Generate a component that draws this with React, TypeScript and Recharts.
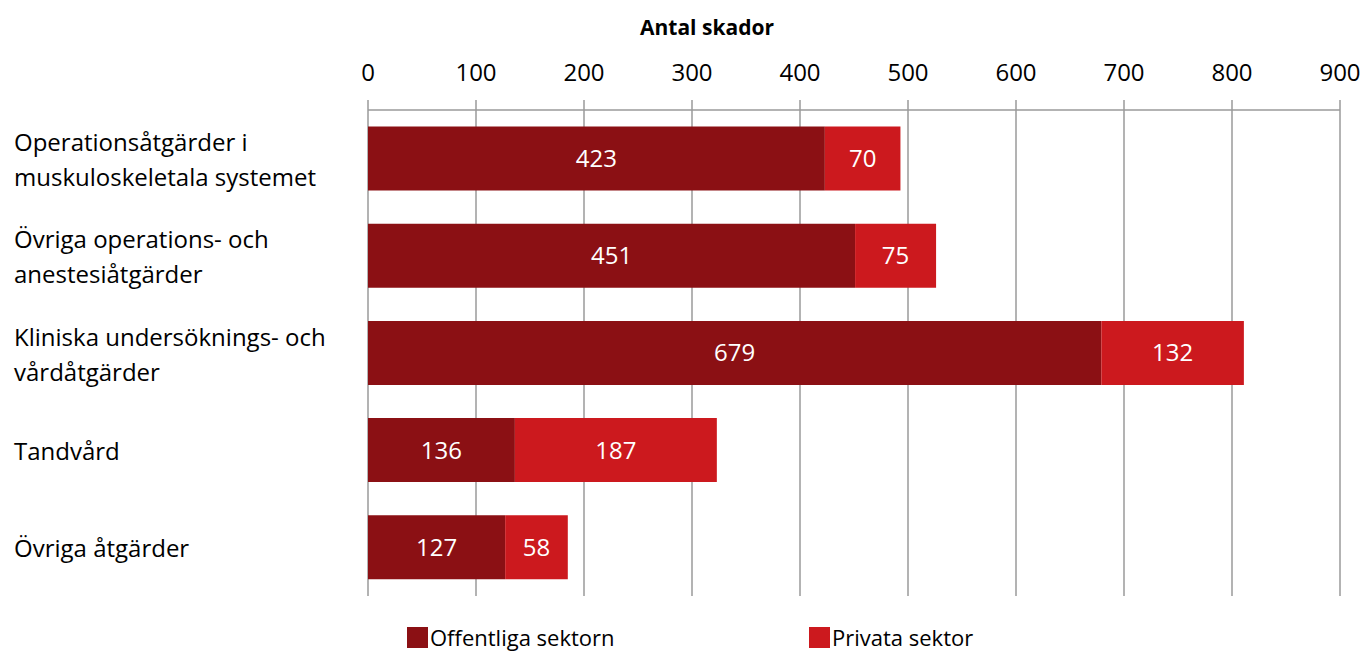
import React from 'react';
import { BarChart, Bar, XAxis, YAxis, CartesianGrid, LabelList } from 'recharts';

const categories = [
  ['Operationsåtgärder i', 'muskuloskeletala systemet'],
  ['Övriga operations- och', 'anestesiåtgärder'],
  ['Kliniska undersöknings- och', 'vårdåtgärder'],
  ['Tandvård'],
  ['Övriga åtgärder'],
];
const offentliga = [423, 451, 679, 136, 127];
const privata = [70, 75, 132, 187, 58];
const xTicks = [0, 100, 200, 300, 400, 500, 600, 700, 800, 900];
const seriesNames = ['Offentliga sektorn', 'Privata sektor'];

const DARK = '#8b1014';
const BRIGHT = '#cc191e';
const GRID = '#9a9a9a';
const FONT = '"Open Sans", "Noto Sans", sans-serif';

const data = categories.map((c, i) => ({
  name: c.join(' '),
  off: offentliga[i],
  priv: privata[i],
}));

const CategoryTick = (props: any) => {
  const { y, index } = props;
  const lines: string[] = categories[index] || [];
  const lh = 35;
  const start = y - ((lines.length - 1) * lh) / 2;
  return (
    <text x={14} y={start} fill="#000" fontSize={24} fontFamily={FONT} textAnchor="start" dominantBaseline="central">
      {lines.map((l, i) => (
        <tspan key={i} x={14} y={start + i * lh}>{l}</tspan>
      ))}
    </text>
  );
};

export default function App() {
  const legend = [
    { label: seriesNames[0], color: DARK, left: 407 },
    { label: seriesNames[1], color: BRIGHT, left: 809 },
  ];
  return (
    <div style={{ position: 'absolute', left: 0, top: 0, width: 1365, height: 654, background: '#fff', overflow: 'hidden' }}>
      <div style={{ position: 'absolute', left: 0, width: 1414, top: 13, textAlign: 'center', fontFamily: FONT, fontWeight: 700, fontSize: 21, color: '#000' }}>
        Antal skador
      </div>
      <BarChart
        width={1365}
        height={654}
        data={data}
        layout="vertical"
        margin={{ top: 70, right: 25, bottom: 58, left: 0 }}
        barCategoryGap="17%"
      >
        <CartesianGrid horizontal={false} vertical stroke={GRID} strokeWidth={1.5} />
        <XAxis
          type="number"
          orientation="top"
          domain={[0, 900]}
          ticks={xTicks}
          height={40}
          tickSize={10}
          tickMargin={19}
          axisLine={{ stroke: GRID, strokeWidth: 1.5 }}
          tickLine={{ stroke: GRID, strokeWidth: 1.5 }}
          tick={{ fill: '#000', fontSize: 24, fontFamily: FONT }}
          interval={0}
        />
        <YAxis
          type="category"
          dataKey="name"
          width={368}
          axisLine={false}
          tickLine={false}
          tick={<CategoryTick />}
          interval={0}
        />
        <Bar dataKey="off" name={seriesNames[0]} stackId="a" fill={DARK} isAnimationActive={false}>
          <LabelList dataKey="off" position="center" fill="#fff" fontSize={24} fontFamily={FONT} />
        </Bar>
        <Bar dataKey="priv" name={seriesNames[1]} stackId="a" fill={BRIGHT} isAnimationActive={false}>
          <LabelList dataKey="priv" position="center" fill="#fff" fontSize={24} fontFamily={FONT} />
        </Bar>
      </BarChart>
      {legend.map((it) => (
        <div key={it.label} style={{ position: 'absolute', left: it.left, top: 624, display: 'flex', alignItems: 'center', whiteSpace: 'nowrap', fontFamily: FONT, fontSize: 22 }}>
          <span style={{ display: 'inline-block', width: 21, height: 21, background: it.color, marginRight: 2 }} />
          <span style={{ lineHeight: '26px', color: '#000' }}>{it.label}</span>
        </div>
      ))}
    </div>
  );
}
